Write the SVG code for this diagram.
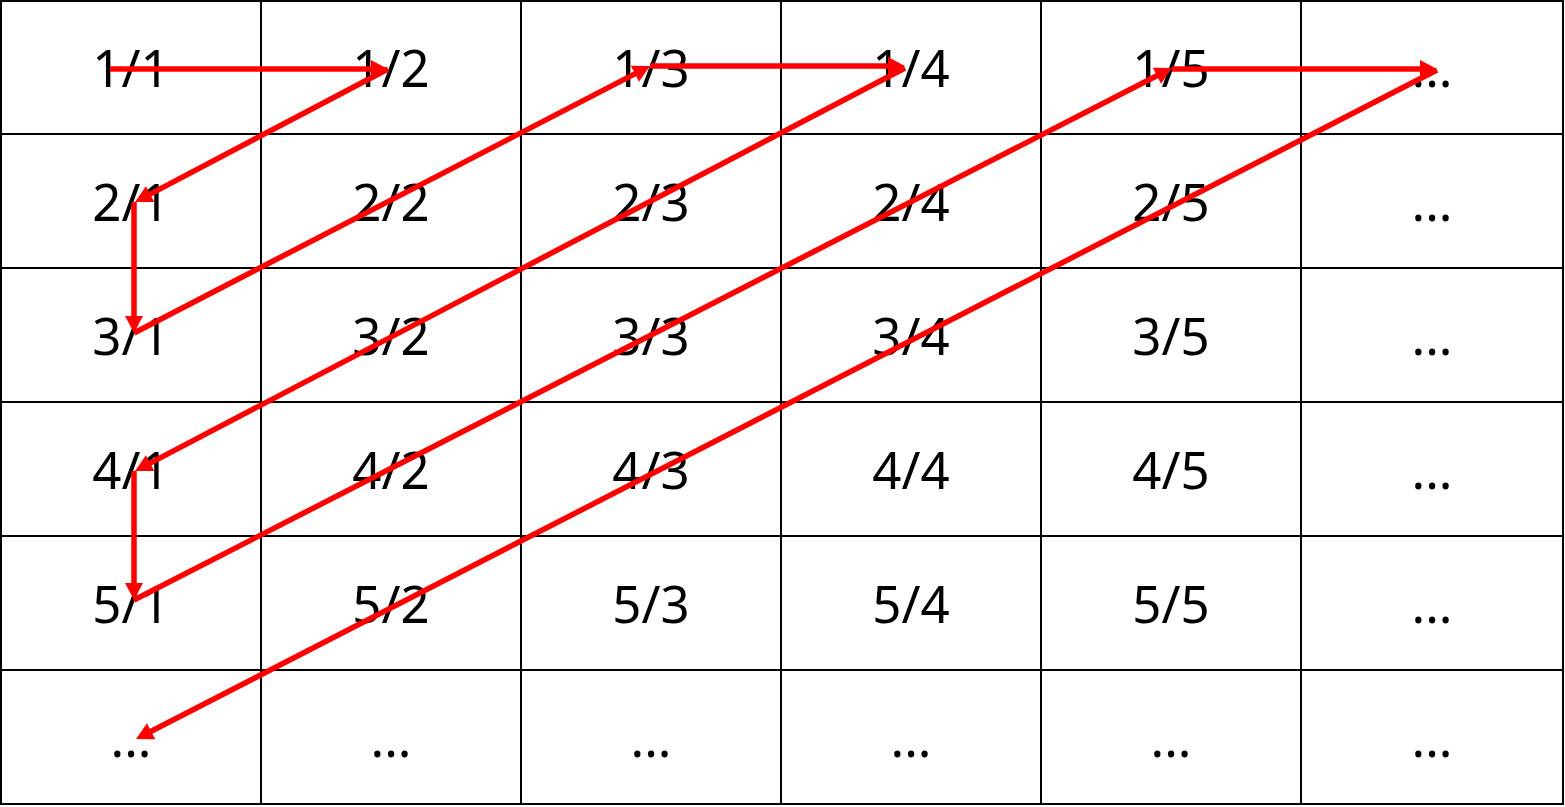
<svg xmlns="http://www.w3.org/2000/svg" width="1565" height="807" viewBox="0 0 1565 807">
<style>
.grid{stroke:#000;stroke-width:2;fill:none}
.t{font-family:"Noto Sans","Open Sans","DejaVu Sans",sans-serif;font-size:51px;fill:#000;text-anchor:middle}
.a{stroke:#ff0000;stroke-width:5.5;fill:none;marker-end:url(#ah)}
</style>
<defs>
<marker id="ah" markerUnits="userSpaceOnUse" markerWidth="24" markerHeight="24" refX="0" refY="0" viewBox="0 -12 24 24" orient="auto" overflow="visible">
<path d="M-1,-9 L16,0 L-1,9 z" fill="#ff0000"/>
</marker>
</defs>
<rect width="1565" height="807" fill="#fff"/>
<g id="grid" class="grid">
<rect x="1" y="1" width="1562" height="803"/>
<line x1="261" y1="1" x2="261" y2="804"/>
<line x1="521" y1="1" x2="521" y2="804"/>
<line x1="781" y1="1" x2="781" y2="804"/>
<line x1="1041" y1="1" x2="1041" y2="804"/>
<line x1="1301" y1="1" x2="1301" y2="804"/>
<line x1="1" y1="134" x2="1563" y2="134"/>
<line x1="1" y1="268" x2="1563" y2="268"/>
<line x1="1" y1="402" x2="1563" y2="402"/>
<line x1="1" y1="536" x2="1563" y2="536"/>
<line x1="1" y1="670" x2="1563" y2="670"/>
</g>
<g id="cells">
<g id="r1"><text class="t" x="131" y="87">1/1</text><text class="t" x="391" y="87">1/2</text><text class="t" x="651" y="87">1/3</text><text class="t" x="911" y="87">1/4</text><text class="t" x="1171" y="87">1/5</text><text class="t" x="1432" y="87">...</text></g>
<g id="r2"><text class="t" x="131" y="221">2/1</text><text class="t" x="391" y="221">2/2</text><text class="t" x="651" y="221">2/3</text><text class="t" x="911" y="221">2/4</text><text class="t" x="1171" y="221">2/5</text><text class="t" x="1432" y="221">...</text></g>
<g id="r3"><text class="t" x="131" y="355">3/1</text><text class="t" x="391" y="355">3/2</text><text class="t" x="651" y="355">3/3</text><text class="t" x="911" y="355">3/4</text><text class="t" x="1171" y="355">3/5</text><text class="t" x="1432" y="355">...</text></g>
<g id="r4"><text class="t" x="131" y="489">4/1</text><text class="t" x="391" y="489">4/2</text><text class="t" x="651" y="489">4/3</text><text class="t" x="911" y="489">4/4</text><text class="t" x="1171" y="489">4/5</text><text class="t" x="1432" y="489">...</text></g>
<g id="r5"><text class="t" x="131" y="623">5/1</text><text class="t" x="391" y="623">5/2</text><text class="t" x="651" y="623">5/3</text><text class="t" x="911" y="623">5/4</text><text class="t" x="1171" y="623">5/5</text><text class="t" x="1432" y="623">...</text></g>
<g id="r6"><text class="t" x="131" y="757">...</text><text class="t" x="391" y="757">...</text><text class="t" x="651" y="757">...</text><text class="t" x="911" y="757">...</text><text class="t" x="1171" y="757">...</text><text class="t" x="1432" y="757">...</text></g>
</g>
<g id="connectors">
<line class="a" x1="110" y1="69" x2="372" y2="69"/>
<line class="a" x1="388" y1="69" x2="149.2" y2="194.6"/>
<line class="a" x1="134" y1="202" x2="134" y2="317"/>
<line class="a" x1="134" y1="333" x2="635.8" y2="73.4"/>
<line class="a" x1="650" y1="66" x2="889" y2="66"/>
<line class="a" x1="905" y1="68" x2="149.2" y2="463.6"/>
<line class="a" x1="134" y1="471" x2="134" y2="584"/>
<line class="a" x1="134" y1="600" x2="1157.8" y2="75.3"/>
<line class="a" x1="1172" y1="69" x2="1421" y2="69"/>
<line class="a" x1="1437" y1="70" x2="150.2" y2="731.7"/>
</g>
</svg>
